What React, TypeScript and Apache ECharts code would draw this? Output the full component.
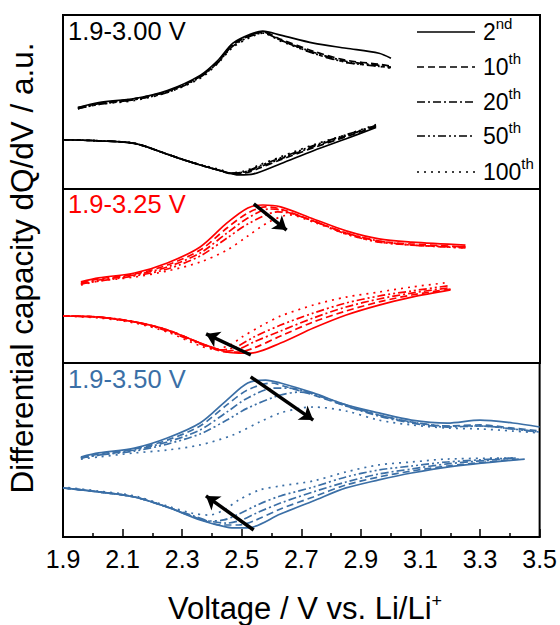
import React, { useEffect, useRef } from 'react';
import * as echarts from 'echarts';

// ---------- text ----------
const panelLabels = ['1.9-3.00 V', '1.9-3.25 V', '1.9-3.50 V'];
const panelColors = ['#000000', '#ff0000', '#3b6fa6'];
const cycleNums = ['2', '10', '20', '50', '100'];
const cycleSuffix = ['nd', 'th', 'th', 'th', 'th'];
const xTitle = 'Voltage / V vs. Li/Li';
const yTitle = 'Differential capacity dQ/dV / a.u.';
const xMin = 1.9;
const xMax = 3.5;
const xStep = 0.2;

// ---------- 1.9-3.00 V (charge = upper, discharge = lower) [V, a.u.] ----------
const top_c_2nd = [[1.95,46.8],[2.02,49.7],[2.14,52.0],[2.25,56.6],[2.36,65.3],[2.42,74.0],[2.47,83.8],[2.53,89.0],[2.57,90.7],[2.63,88.4],[2.74,83.8],[2.85,80.9],[2.96,78.0],[3.00,75.1]];
const top_c_10th = [[1.95,46.8],[2.02,49.1],[2.14,52.0],[2.25,56.1],[2.36,64.7],[2.42,73.4],[2.47,83.2],[2.53,88.4],[2.57,90.2],[2.63,86.1],[2.74,79.2],[2.85,74.0],[2.96,71.7],[3.00,70.5]];
const top_c_20th = [[1.95,46.2],[2.02,49.1],[2.14,51.4],[2.25,56.1],[2.36,64.7],[2.42,72.8],[2.47,82.7],[2.53,88.4],[2.57,90.2],[2.63,85.5],[2.74,78.6],[2.85,73.4],[2.96,71.1],[3.00,69.9]];
const top_c_50th = [[1.95,46.2],[2.02,48.6],[2.14,51.4],[2.25,55.5],[2.36,64.2],[2.42,72.8],[2.47,82.1],[2.53,87.9],[2.57,89.6],[2.63,85.5],[2.74,78.0],[2.85,72.8],[2.96,70.5],[3.00,69.9]];
const top_c_100th = [[1.95,46.2],[2.02,48.6],[2.14,50.9],[2.25,55.5],[2.36,63.6],[2.42,72.3],[2.47,81.5],[2.53,87.3],[2.57,89.6],[2.63,85.0],[2.74,78.0],[2.85,72.8],[2.96,70.5],[3.00,69.4]];
const top_d_2nd = [[2.95,35.3],[2.85,28.9],[2.74,22.0],[2.63,14.5],[2.54,8.7],[2.49,8.1],[2.43,10.5],[2.36,13.8],[2.29,17.6],[2.25,20.0],[2.14,26.2],[2.02,27.7],[1.90,28.3]];
const top_d_10th = [[2.95,35.8],[2.85,30.1],[2.74,23.7],[2.63,16.8],[2.56,12.1],[2.51,9.2],[2.46,8.9],[2.43,10.4],[2.36,13.8],[2.29,17.6],[2.25,20.0],[2.14,26.2],[2.02,27.7],[1.90,28.3]];
const top_d_20th = [[2.95,36.4],[2.85,30.6],[2.74,24.3],[2.63,17.3],[2.56,12.7],[2.51,9.8],[2.46,9.0],[2.43,10.4],[2.36,13.8],[2.29,17.6],[2.25,20.0],[2.14,26.2],[2.02,27.7],[1.90,28.3]];
const top_d_50th = [[2.95,36.4],[2.85,31.2],[2.74,24.9],[2.63,17.9],[2.56,13.3],[2.51,9.8],[2.46,9.2],[2.43,10.4],[2.36,13.8],[2.29,17.6],[2.25,20.0],[2.14,26.2],[2.02,27.7],[1.90,28.3]];
const top_d_100th = [[2.95,37.0],[2.85,31.2],[2.74,25.4],[2.63,18.5],[2.56,13.9],[2.51,10.4],[2.46,9.2],[2.43,11.0],[2.36,14.0],[2.29,17.6],[2.25,20.0],[2.14,26.2],[2.02,27.7],[1.90,28.3]];

// ---------- 1.9-3.25 V ----------
const mid_c_2nd = [[1.96,46.6],[2.02,48.9],[2.14,51.7],[2.25,57.5],[2.36,66.7],[2.45,80.5],[2.52,89.1],[2.57,90.8],[2.63,89.7],[2.74,82.8],[2.85,75.9],[2.96,71.3],[3.07,69.5],[3.25,67.8]];
const mid_c_10th = [[1.96,46.0],[2.02,48.3],[2.14,51.1],[2.25,56.3],[2.36,64.9],[2.45,77.6],[2.52,86.2],[2.58,89.7],[2.63,88.5],[2.74,81.6],[2.85,74.7],[2.96,70.1],[3.07,68.4],[3.25,66.7]];
const mid_c_20th = [[1.96,45.4],[2.02,47.7],[2.14,50.6],[2.25,55.2],[2.36,63.2],[2.45,74.7],[2.52,83.3],[2.59,88.5],[2.63,87.9],[2.74,81.6],[2.85,74.7],[2.96,70.1],[3.07,67.8],[3.25,66.7]];
const mid_c_50th = [[1.96,45.4],[2.02,47.1],[2.14,50.0],[2.25,54.0],[2.36,61.5],[2.45,71.8],[2.52,79.9],[2.62,86.8],[2.66,86.2],[2.74,81.6],[2.85,74.1],[2.96,69.5],[3.07,67.8],[3.25,66.1]];
const mid_c_100th = [[1.96,44.8],[2.02,47.1],[2.14,49.4],[2.25,52.9],[2.36,58.0],[2.45,64.9],[2.52,73.0],[2.59,81.0],[2.66,85.1],[2.74,81.0],[2.85,74.1],[2.96,69.5],[3.07,67.8],[3.25,66.1]];
const mid_d_2nd = [[3.20,42.0],[3.07,37.9],[2.96,33.3],[2.85,27.6],[2.74,20.1],[2.63,11.5],[2.53,5.7],[2.49,5.7],[2.45,6.3],[2.36,11.5],[2.25,19.0],[2.14,23.6],[2.02,26.4],[1.90,27.0]];
const mid_d_10th = [[3.20,42.5],[3.07,39.1],[2.96,35.1],[2.85,29.9],[2.74,23.6],[2.63,15.5],[2.54,8.6],[2.49,6.3],[2.45,6.3],[2.36,11.5],[2.25,19.0],[2.14,23.6],[2.02,26.4],[1.90,27.0]];
const mid_d_20th = [[3.19,43.1],[3.07,40.2],[2.96,36.8],[2.85,32.2],[2.74,25.9],[2.63,18.4],[2.54,12.1],[2.49,8.0],[2.45,6.9],[2.36,11.5],[2.25,19.0],[2.14,23.6],[2.02,26.4],[1.90,27.0]];
const mid_d_50th = [[3.19,44.3],[3.07,41.4],[2.96,38.5],[2.85,34.5],[2.74,28.7],[2.63,21.8],[2.54,14.9],[2.48,9.2],[2.43,7.5],[2.36,10.9],[2.25,18.4],[2.14,23.6],[2.02,26.4],[1.90,27.0]];
const mid_d_100th = [[3.18,46.0],[3.07,43.7],[2.96,40.8],[2.85,37.9],[2.74,33.3],[2.63,27.0],[2.57,21.8],[2.50,14.9],[2.46,10.3],[2.41,8.0],[2.36,9.8],[2.25,17.8],[2.14,23.0],[2.02,25.9],[1.90,27.0]];

// ---------- 1.9-3.50 V ----------
const bot_c_2nd = [[1.96,46.0],[2.02,48.3],[2.14,51.1],[2.25,56.9],[2.36,65.5],[2.45,78.7],[2.52,88.5],[2.58,90.2],[2.63,88.5],[2.74,82.8],[2.85,75.9],[2.96,71.3],[3.07,67.2],[3.19,65.5],[3.30,67.2],[3.41,65.5],[3.50,63.2]];
const bot_c_10th = [[1.96,45.4],[2.02,47.7],[2.14,50.6],[2.25,55.7],[2.36,63.8],[2.45,75.9],[2.52,84.5],[2.60,88.5],[2.64,86.8],[2.74,81.6],[2.85,75.3],[2.96,70.1],[3.07,66.1],[3.19,63.8],[3.30,64.4],[3.41,62.6],[3.50,60.9]];
const bot_c_20th = [[1.96,45.4],[2.02,47.1],[2.14,50.0],[2.25,54.6],[2.36,61.5],[2.45,71.8],[2.52,79.9],[2.61,85.6],[2.66,85.6],[2.74,82.2],[2.85,75.3],[2.96,69.5],[3.07,65.5],[3.19,63.2],[3.30,63.8],[3.41,62.1],[3.50,60.3]];
const bot_c_50th = [[1.96,45.4],[2.02,47.1],[2.14,49.4],[2.25,53.4],[2.36,59.2],[2.45,67.2],[2.52,74.1],[2.63,81.6],[2.70,83.3],[2.74,82.2],[2.85,75.9],[2.96,70.1],[3.07,66.1],[3.19,63.8],[3.30,63.8],[3.41,62.1],[3.50,60.3]];
const bot_c_100th = [[1.96,44.8],[2.02,46.0],[2.14,48.3],[2.25,50.0],[2.36,52.9],[2.47,58.6],[2.56,66.1],[2.63,71.3],[2.70,74.1],[2.74,74.7],[2.85,72.4],[2.96,67.2],[3.07,64.4],[3.19,62.6],[3.30,62.1],[3.41,60.9],[3.50,59.8]];
const bot_d_2nd = [[3.45,44.8],[3.19,40.2],[3.07,36.8],[2.96,32.8],[2.85,28.2],[2.74,20.7],[2.63,13.2],[2.52,5.2],[2.49,5.2],[2.45,5.7],[2.36,9.8],[2.25,17.2],[2.14,23.0],[2.02,25.9],[1.90,28.2]];
const bot_d_10th = [[3.43,44.8],[3.19,40.8],[3.07,37.9],[2.96,34.5],[2.85,29.9],[2.74,23.0],[2.63,16.1],[2.54,9.2],[2.49,6.9],[2.43,6.9],[2.36,10.3],[2.25,17.2],[2.14,23.0],[2.02,25.9],[1.90,28.2]];
const bot_d_20th = [[3.42,45.4],[3.19,42.0],[3.07,39.1],[2.96,36.2],[2.85,31.6],[2.74,25.9],[2.63,19.5],[2.55,13.8],[2.50,9.8],[2.45,8.0],[2.39,9.2],[2.33,12.6],[2.25,17.2],[2.14,23.0],[2.02,25.9],[1.90,28.2]];
const bot_d_50th = [[3.41,45.4],[3.19,43.1],[3.07,40.8],[2.96,38.5],[2.85,34.5],[2.74,28.7],[2.63,23.6],[2.56,19.0],[2.49,13.2],[2.44,9.8],[2.39,9.2],[2.33,12.1],[2.25,17.2],[2.14,23.0],[2.02,25.9],[1.90,28.2]];
const bot_d_100th = [[3.41,45.4],[3.19,44.8],[3.07,43.1],[2.96,41.4],[2.85,37.4],[2.74,32.2],[2.63,29.3],[2.56,27.0],[2.49,21.3],[2.44,15.5],[2.39,12.6],[2.33,13.8],[2.25,17.8],[2.14,23.6],[2.02,26.4],[1.90,28.7]];

// ---------- arrows (trend with cycling) [start, end] ----------
const mid_arrows = [[[2.54, 91.4], [2.65, 76.4]], [[2.53, 4.6], [2.38, 16.7]]];
const bot_arrows = [[[2.53, 92.0], [2.74, 67.2]], [[2.54, 4.0], [2.38, 23.6]]];

const panelCharge = [
  [top_c_2nd, top_c_10th, top_c_20th, top_c_50th, top_c_100th],
  [mid_c_2nd, mid_c_10th, mid_c_20th, mid_c_50th, mid_c_100th],
  [bot_c_2nd, bot_c_10th, bot_c_20th, bot_c_50th, bot_c_100th],
];
const panelDischarge = [
  [top_d_2nd, top_d_10th, top_d_20th, top_d_50th, top_d_100th],
  [mid_d_2nd, mid_d_10th, mid_d_20th, mid_d_50th, mid_d_100th],
  [bot_d_2nd, bot_d_10th, bot_d_20th, bot_d_50th, bot_d_100th],
];
const panelArrows = [[], mid_arrows, bot_arrows];

const FONT = '"Liberation Sans", Arial, Helvetica, sans-serif';
const dashTypes: any[] = ['solid', [7, 4], [8, 3, 2, 3], [8, 3, 2, 3, 2, 3], [2, 5]];

export default function App() {
  const ref = useRef<HTMLDivElement>(null);
  useEffect(() => {
    if (!ref.current) return;
    const chart = echarts.init(ref.current, undefined, { renderer: 'svg' });
    const tops = [15, 189, 363];
    const grids = tops.map((t) => ({
      left: 63, width: 477, top: t, height: 174,
      show: true, borderColor: '#000', borderWidth: 2, backgroundColor: 'transparent',
    }));
    const xAxes = tops.map((_, i) => {
      const base: any = {
        gridIndex: i, type: 'value', min: xMin, max: xMax, interval: xStep,
        splitLine: { show: false },
      };
      if (i < 2) return { ...base, show: false };
      return {
        ...base,
        axisLine: { show: true, onZero: false, lineStyle: { color: '#000', width: 2 } },
        axisTick: { show: true, inside: true, length: 8, lineStyle: { color: '#000', width: 1.5 } },
        minorTick: { show: true, splitNumber: 2, length: 4, lineStyle: { color: '#000', width: 1.5 } },
        minorSplitLine: { show: false },
        axisLabel: {
          color: '#000', fontSize: 25, fontFamily: FONT, margin: 9,
          showMinLabel: true, showMaxLabel: true,
          formatter: (v: number) => v.toFixed(1),
        },
      };
    });
    const yAxes = tops.map((_, i) => ({ gridIndex: i, type: 'value', min: 0, max: 100, show: false }));

    const series: any[] = [];
    for (let p = 0; p < 3; p++) {
      for (let k = 0; k < 5; k++) {
        for (const data of [panelCharge[p][k], panelDischarge[p][k]]) {
          series.push({
            type: 'line', xAxisIndex: p, yAxisIndex: p, data,
            symbol: 'none', showSymbol: false, smooth: 0.3,
            lineStyle: { color: panelColors[p], width: 1.7, type: dashTypes[k] },
            silent: true, z: 2,
          });
        }
      }
      if (panelArrows[p].length) {
        series.push({
          type: 'lines', coordinateSystem: 'cartesian2d', xAxisIndex: p, yAxisIndex: p,
          symbol: ['none', 'arrow'], symbolSize: 13,
          lineStyle: { color: '#000', width: 3.5, opacity: 1, curveness: 0 },
          data: panelArrows[p].map((c) => ({ coords: c })),
          silent: true, z: 5,
        });
      }
    }

    const labelYs = [33, 206, 381];
    const graphic: any[] = [];
    panelLabels.forEach((t, i) => {
      graphic.push({
        type: 'text', left: 68, top: labelYs[i] - 15, z: 10,
        style: { text: t, fill: panelColors[i], fontSize: 25.5, fontFamily: FONT },
      });
    });
    const rowYs = [32, 67, 102, 136, 172];
    cycleNums.forEach((n, k) => {
      graphic.push({
        type: 'line', z: 10,
        shape: { x1: 417, y1: rowYs[k], x2: 475, y2: rowYs[k] },
        style: { stroke: '#000', lineWidth: 1.6, lineDash: k === 0 ? null : dashTypes[k] },
      });
      graphic.push({
        type: 'text', x: 483, y: rowYs[k], z: 10,
        style: {
          text: `{n|${n}}{s|${cycleSuffix[k]}}`,
          verticalAlign: 'middle', align: 'left',
          rich: {
            n: { fontSize: 23, fontFamily: FONT, fill: '#000', lineHeight: 32 },
            s: { fontSize: 15, fontFamily: FONT, fill: '#000', verticalAlign: 'top' },
          },
        },
      });
    });
    graphic.push({
      type: 'text', x: 305, y: 608, z: 10,
      style: {
        text: `{a|${xTitle}}{b|+}`, align: 'center', verticalAlign: 'middle',
        rich: {
          a: { fontSize: 31, fontFamily: FONT, fill: '#000', lineHeight: 32 },
          b: { fontSize: 18, fontFamily: FONT, fill: '#000', verticalAlign: 'top', lineHeight: 18 },
        },
      },
    });
    graphic.push({
      type: 'text', x: 22, y: 268, rotation: Math.PI / 2, z: 10,
      style: { text: yTitle, fontSize: 31.5, fontFamily: FONT, fill: '#000', align: 'center', verticalAlign: 'middle' },
    });

    chart.setOption({
      animation: false,
      backgroundColor: '#fff',
      grid: grids,
      xAxis: xAxes,
      yAxis: yAxes,
      series,
      graphic,
    });
    return () => chart.dispose();
  }, []);
  return <div ref={ref} style={{ position: 'absolute', left: 0, top: 0, width: 560, height: 625 }} />;
}
